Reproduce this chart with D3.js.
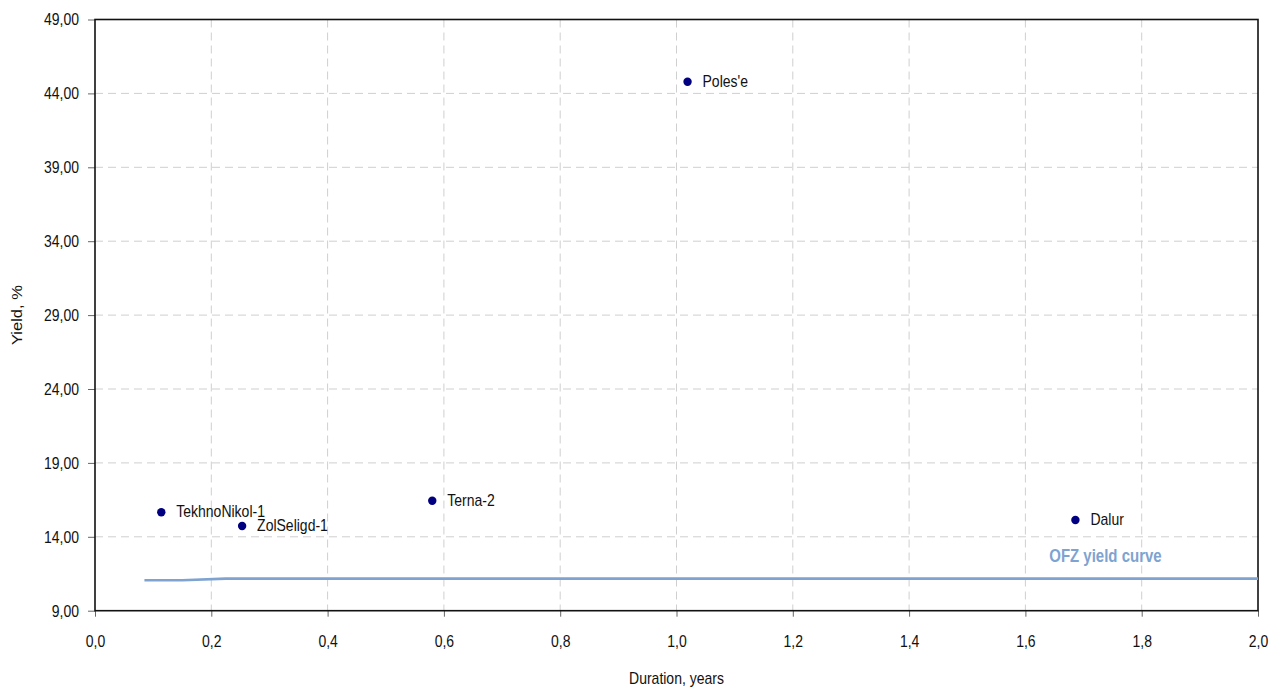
<!DOCTYPE html>
<html><head><meta charset="utf-8">
<script src="https://cdn.jsdelivr.net/npm/d3@7"></script>
<style>
body{margin:0;background:#fff;}
text{font-family:"Liberation Sans",Arial,sans-serif;}
text.st{transform-box:fill-box;transform-origin:center;transform:scaleY(1.2);}
text.sx{transform-box:fill-box;transform-origin:center;transform:scaleX(1.18);}
</style></head>
<body><svg id="c" width="1277" height="691"></svg>
<script>
const bondNames = ["TekhnoNikol-1","ZolSeligd-1","Terna-2","Poles'e","Dalur"];
const bondDuration = [0.114,0.253,0.580,1.019,1.686];
const bondYield = [15.66,14.73,16.44,44.79,15.14];
const ofzDuration = [0.085,0.15,0.225,0.5,1.0,1.5,1.91,2.0];
const ofzYield = [11.06,11.06,11.17,11.17,11.17,11.17,11.17,11.17];
const xTicks = [0,0.2,0.4,0.6,0.8,1.0,1.2,1.4,1.6,1.8,2.0];
const yTicks = [9,14,19,24,29,34,39,44,49];

const svg = d3.select("#c");
const L=95,R=1258,T=19.5,B=610.7;
const x = d3.scaleLinear().domain([0,2]).range([L,R]);
const y = d3.scaleLinear().domain([9,49]).range([B,T]);
const fmtX = d => d.toFixed(1).replace(".",",");
const fmtY = d => d.toFixed(2).replace(".",",");
const FF = '"Liberation Sans",Arial,sans-serif';

// grid
svg.append("g").selectAll("line").data(xTicks.slice(1,-1)).join("line")
  .attr("x1",d=>x(d)).attr("x2",d=>x(d)).attr("y1",T).attr("y2",B)
  .attr("stroke","#cfcfcf").attr("stroke-dasharray","8,5");
svg.append("g").selectAll("line").data(yTicks.slice(1,-1)).join("line")
  .attr("y1",d=>y(d)).attr("y2",d=>y(d)).attr("x1",L).attr("x2",R)
  .attr("stroke","#cfcfcf").attr("stroke-dasharray","8,5");

// axes
const xa = svg.append("g").attr("transform",`translate(0,${B})`)
  .call(d3.axisBottom(x).tickValues(xTicks).tickFormat(fmtX).tickSize(6).tickPadding(19));
const ya = svg.append("g").attr("transform",`translate(${L},0)`)
  .call(d3.axisLeft(y).tickValues(yTicks).tickFormat(fmtY).tickSize(7).tickPadding(9));
[xa,ya].forEach(a=>{
  a.select(".domain").remove();
  a.selectAll(".tick line").attr("stroke","#666");
  a.selectAll(".tick text").attr("class","st").attr("font-size",14).attr("fill","#111").style("font-family",FF);
});

// frame
svg.append("rect").attr("x",L).attr("y",T).attr("width",R-L).attr("height",B-T)
  .attr("fill","none").attr("stroke","#111").attr("stroke-width",1.6);

// OFZ curve
svg.append("path").datum(ofzDuration.map((d,i)=>[d,ofzYield[i]]))
  .attr("d",d3.line().x(d=>x(d[0])).y(d=>y(d[1])))
  .attr("fill","none").attr("stroke","#7ea3d0").attr("stroke-width",2.6);
svg.append("text").attr("class","st").attr("x",x(1.641)).attr("y",y(12.35)).text("OFZ yield curve")
  .attr("font-size",15).attr("font-weight","bold").attr("fill","#7ea3d0");

// points
const pts = bondNames.map((n,i)=>({n,d:bondDuration[i],v:bondYield[i]}));
svg.append("g").selectAll("circle").data(pts).join("circle")
  .attr("cx",d=>x(d.d)).attr("cy",d=>y(d.v)).attr("r",4.2).attr("fill","#000080");
svg.append("g").selectAll("text").data(pts).join("text").attr("class","st")
  .attr("x",d=>x(d.d)+15).attr("y",d=>y(d.v)+4).text(d=>d.n)
  .attr("font-size",14).attr("fill","#111");

// titles
svg.append("text").attr("class","st").attr("x",(L+R)/2).attr("y",683).attr("text-anchor","middle")
  .attr("font-size",14).attr("fill","#111").text("Duration, years");
svg.append("g").attr("transform",`translate(22,${(T+B)/2}) rotate(-90)`)
  .append("text").attr("class","sx").attr("text-anchor","middle")
  .attr("font-size",14).attr("fill","#111").text("Yield, %");
</script></body></html>
